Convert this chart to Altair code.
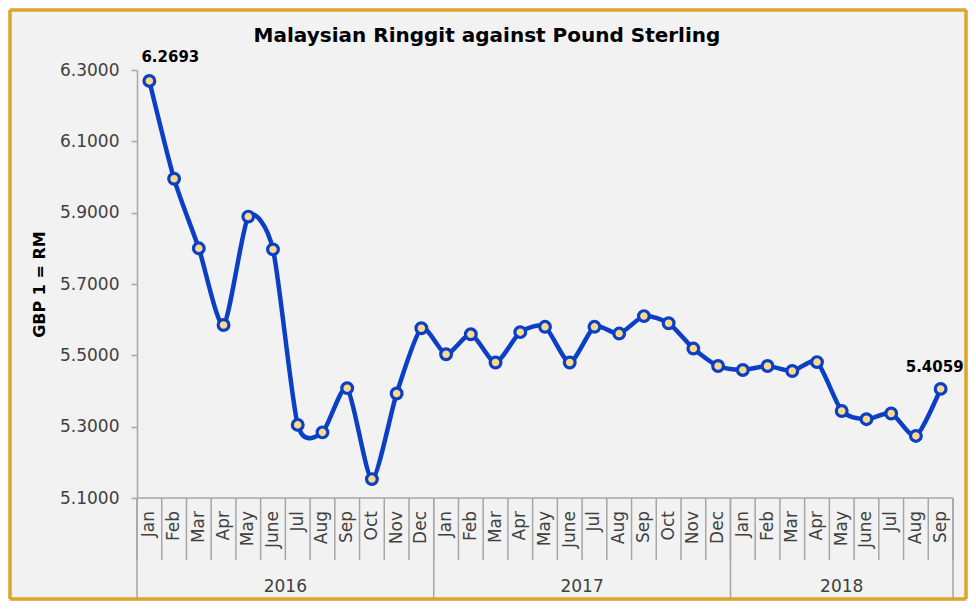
import altair as alt
import pandas as pd

months_2016 = ["Jan", "Feb", "Mar", "Apr", "May", "June", "Jul", "Aug", "Sep", "Oct", "Nov", "Dec"]
months_2017 = ["Jan", "Feb", "Mar", "Apr", "May", "June", "Jul", "Aug", "Sep", "Oct", "Nov", "Dec"]
months_2018 = ["Jan", "Feb", "Mar", "Apr", "May", "June", "Jul", "Aug", "Sep"]
years = ["2016", "2017", "2018"]
values = [6.2693, 5.995, 5.800, 5.585, 5.889, 5.797, 5.305, 5.284, 5.408, 5.153, 5.393, 5.576,
          5.503, 5.559, 5.480, 5.565, 5.580, 5.480, 5.580, 5.561, 5.610, 5.590, 5.519, 5.470,
          5.459, 5.470, 5.456, 5.481, 5.344, 5.321, 5.337, 5.274, 5.4059]
y_ticks = [5.1, 5.3, 5.5, 5.7, 5.9, 6.1, 6.3]

month_labels = months_2016 + months_2017 + months_2018
year_of = ["2016"] * len(months_2016) + ["2017"] * len(months_2017) + ["2018"] * len(months_2018)
n = len(values)

df = pd.DataFrame({"idx": list(range(n)), "month": month_labels, "year": year_of, "rate": values})
df["label"] = ""
df.loc[0, "label"] = f"{values[0]:.4f}"
df.loc[n - 1, "label"] = f"{values[-1]:.4f}"

bounds = pd.DataFrame({"b": [i - 0.5 for i in range(n + 1)]})
year_counts = [len(months_2016), len(months_2017), len(months_2018)]
yb = [-0.5]
for c in year_counts:
    yb.append(yb[-1] + c)
year_bounds = pd.DataFrame({"b": yb})
year_centers = pd.DataFrame({
    "year": years,
    "c": [(yb[i] + yb[i + 1]) / 2 for i in range(3)],
})
first_pt = df.iloc[[0]].reset_index(drop=True)
last_pt = df.iloc[[n - 1]].reset_index(drop=True)
one = pd.DataFrame({"k": [0]})

W, H = 816, 428
FONT = "DejaVu Sans"
BLUE = "#0B3FC6"
GRAY = "#A6A6A6"
GOLD = "#DBA62A"

xs = alt.Scale(domain=[-0.5, n - 0.5], nice=False, zero=False)
ys = alt.Scale(domain=[5.1, 6.3], nice=False, zero=False)
YAX = alt.Axis(
    values=y_ticks, format=".4f", grid=False, domainColor=GRAY, tickColor=GRAY, domainWidth=1.5,
    tickWidth=1.5, tickSize=6, labelFontSize=17, labelColor="#404040", labelFont=FONT, labelPadding=12,
    title="GBP 1 = RM", titleFontSize=16, titleFont=FONT, titleFontWeight="bold",
    titleColor="#000000", titlePadding=12)
XI = alt.X("idx:Q", scale=xs, axis=None)
YR = alt.Y("rate:Q", scale=ys, axis=YAX)

base = alt.Chart(df)

line = base.mark_line(color=BLUE, strokeWidth=4.5, interpolate="cardinal", tension=0.3).encode(x=XI, y=YR)

pts = base.mark_point(filled=True, fill="#FADA8C", stroke=BLUE, strokeWidth=3.2, size=115, opacity=1).encode(
    x=XI, y=YR
)

lab_first = alt.Chart(first_pt).mark_text(
    font=FONT, fontSize=15, fontWeight="bold", color="#000000", dx=21, dy=-19, baseline="alphabetic"
).encode(x=XI, y=YR, text="label:N")

lab_last = alt.Chart(last_pt).mark_text(
    font=FONT, fontSize=15, fontWeight="bold", color="#000000", dx=-6, dy=-17, baseline="alphabetic"
).encode(x=XI, y=YR, text="label:N")

bottom_line = alt.Chart(one).mark_rule(color=GRAY, strokeWidth=1.5).encode(
    x=alt.value(0), x2=alt.value(W), y=alt.value(H)
)

month_sep = alt.Chart(bounds).mark_rule(color=GRAY, strokeWidth=1.5).encode(
    x=alt.X("b:Q", scale=xs, axis=None), y=alt.value(H), y2=alt.value(H + 62)
)

year_sep = alt.Chart(year_bounds).mark_rule(color=GRAY, strokeWidth=1.5).encode(
    x=alt.X("b:Q", scale=xs, axis=None), y=alt.value(H), y2=alt.value(H + 100)
)

month_text = base.mark_text(
    font=FONT, fontSize=17, color="#404040", angle=270, align="right", baseline="middle"
).encode(x=XI, y=alt.value(H + 13), text="month:N")

year_text = alt.Chart(year_centers).mark_text(
    font=FONT, fontSize=17, color="#404040", baseline="middle"
).encode(x=alt.X("c:Q", scale=xs, axis=None), y=alt.value(H + 89), text="year:N")

title = alt.Chart(one).mark_text(
    text="Malaysian Ringgit against Pound Sterling", font=FONT, fontSize=20, fontWeight="bold",
    color="#000000", baseline="alphabetic"
).encode(x=alt.value(350), y=alt.value(-28))

L, R, T, B = -127, W + 13, -60, H + 101
b_top = alt.Chart(one).mark_rule(color=GOLD, strokeWidth=3.5).encode(x=alt.value(L), x2=alt.value(R), y=alt.value(T))
b_bot = alt.Chart(one).mark_rule(color=GOLD, strokeWidth=3.5).encode(x=alt.value(L), x2=alt.value(R), y=alt.value(B))
b_left = alt.Chart(one).mark_rule(color=GOLD, strokeWidth=3.5).encode(x=alt.value(L), y=alt.value(T), y2=alt.value(B))
b_right = alt.Chart(one).mark_rule(color=GOLD, strokeWidth=3.5).encode(x=alt.value(R), y=alt.value(T), y2=alt.value(B))

chart = alt.layer(
    b_top, b_bot, b_left, b_right, title, bottom_line, month_sep, year_sep,
    month_text, year_text, line, pts, lab_first, lab_last
).properties(
    width=W, height=H,
    padding={"left": 129, "top": 62, "right": 15, "bottom": 103},
    autosize=alt.AutoSizeParams(type="none"),
    background="#F2F2F2",
).configure_view(stroke=None)

chart.save("out.html", embed_options={"renderer": "svg", "actions": False})
